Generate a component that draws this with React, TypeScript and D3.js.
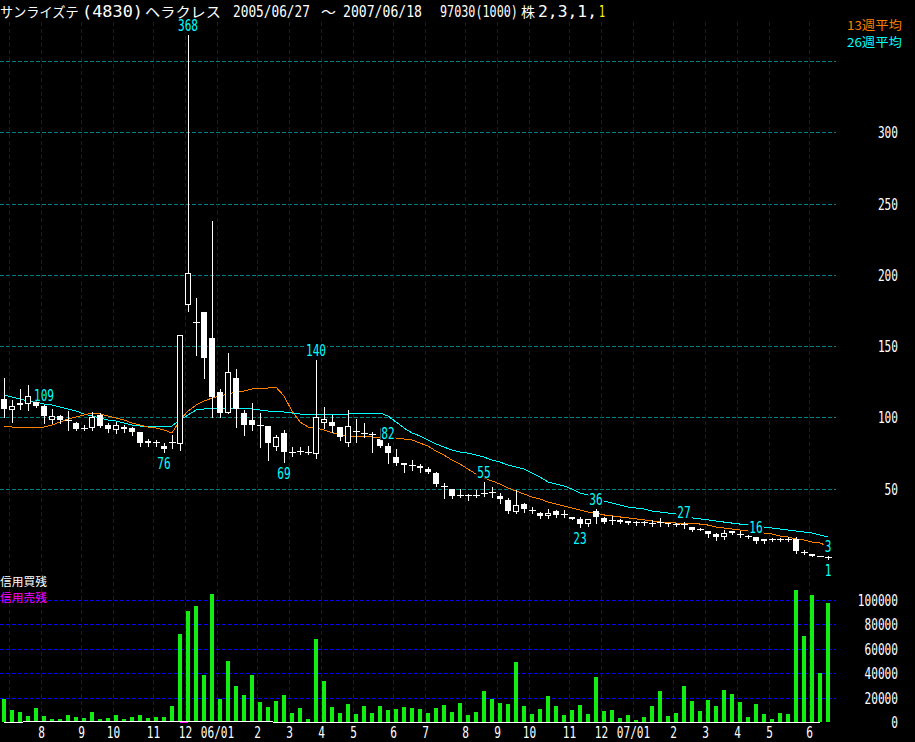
import React from 'react';
import * as d3 from 'd3';

// ---- weekly candles 2005/06/27 .. 2007/06/18 ----
const opens = [
  113, 106, 110, 110, 111, 108, 99, 101, 98, 96,
  92.6, 93, 102, 95, 92, 93, 92.6, 90, 83.5, 83,
  80, 83, 82, 179.5, 167, 174, 156, 118, 104, 128,
  103, 98, 95, 94, 80, 89, 76, 76.5, 76, 75,
  97, 97, 93, 83, 90.5, 89, 88.4, 85, 80, 72,
  68, 66.6, 66, 64, 61, 52, 50, 45.6, 45.6, 45.6,
  47, 47.7, 45, 42, 34.4, 39, 35, 33, 31.6, 34.4,
  32, 30, 29, 26, 34.4, 29.5, 28, 28, 27.3, 26.6,
  26.6, 26, 26.6, 26, 25.2, 25.2, 23, 21.7, 20.3, 18.2,
  17, 20.3, 18.2, 16.8, 16, 14.7, 14.7, 14.7, 14.7, 14.7,
  5.6, 4.2, 2.8, 2.1,
];
const highs = [
  128, 112, 120, 123, 117, 109, 106, 102, 104.5, 97,
  95, 104, 103, 96, 97, 95, 93, 90, 85, 84,
  82, 88, 158, 368, 184, 174, 238, 120, 145, 134,
  105, 110, 103, 94, 88, 91, 79, 79, 80, 140,
  107, 102, 93, 105, 99, 96, 90, 92.6, 82, 78,
  68, 70, 67, 65, 62, 54, 50, 50, 46, 49,
  55, 51, 47, 43.5, 49, 40, 37, 34, 36, 35,
  35, 30.5, 30, 29, 36, 30, 31, 29, 27.5, 27.3,
  27.3, 28, 29.5, 26, 26, 27, 23, 22.5, 20.3, 19,
  21, 20.5, 20, 17.5, 16, 15, 15.5, 15.5, 16, 16,
  7, 4.5, 3, 3,
];
const lows = [
  100, 97, 106, 105, 107, 96, 96, 96, 91, 91,
  91, 91, 93, 90, 89, 90, 88, 80, 80, 80,
  76, 78.5, 77, 175, 144, 128, 100, 100, 103, 93,
  88, 91, 79, 70, 77, 69, 73, 74, 74, 71.5,
  92.6, 90, 84, 80, 83, 86, 76, 79, 68, 66.6,
  62, 63, 62, 61, 52, 43.5, 43.5, 44, 42, 44,
  45, 44, 40, 33, 33, 34, 33, 29.5, 29.5, 30,
  30, 28.5, 23, 23.5, 26, 26, 25, 26, 25, 24.5,
  24.5, 24, 24, 24, 24, 22.5, 20.5, 21, 16, 14,
  14.7, 18.5, 16, 15.5, 12, 12, 13.3, 13.5, 13.3, 5,
  4.2, 2.5, 2.5, 1,
];
const closes = [
  106, 108, 109, 115, 108, 101, 101, 98, 98, 92,
  92.6, 100, 94, 92, 95, 92, 90, 82, 82, 83,
  78, 83, 158, 201, 167, 142, 114, 103, 132, 106,
  95, 95, 95, 82, 86, 76, 76, 76.5, 76, 100,
  99, 94, 86, 94, 90.5, 89, 88.4, 80, 75, 68,
  66.6, 66.6, 64.5, 62, 53, 52, 45, 45.6, 45.6, 45.6,
  47, 47.7, 43, 34.4, 38.6, 36, 35, 31, 33, 31.6,
  32, 29, 25, 29, 30, 27, 28, 26.6, 26, 26.6,
  26.6, 26, 26.6, 25, 25.2, 25.2, 21, 21.7, 18.2, 16,
  19, 19, 18.2, 16.8, 13.3, 13.3, 14.7, 14.7, 14.7, 6.3,
  5.6, 2.8, 2.8, 2.1,
];

// 13-week and 26-week moving averages as drawn
const ma13 = [
  94.0, 93.3, 92.6, 92.6, 92.6, 93.3, 94.7, 96.8, 98.9, 100.3,
  101.7, 103.1, 102.4, 101.0, 99.6, 98.2, 96.1, 94.7, 93.3, 92.6,
  91.2, 89.1, 98.2, 104.5, 108.7, 111.5, 113.6, 115.0, 116.4, 117.8,
  118.5, 119.9, 120.6, 120.6, 121.3, 115.0, 104.5, 96.8, 93.3, 92.6,
  91.2, 89.4, 87.7, 87.0, 86.3, 86.3, 86.3, 85.6, 85.6, 85.6,
  84.9, 84.2, 82.0, 79.9, 76.4, 73.6, 70.1, 67.3, 63.8, 60.3,
  57.5, 55.4, 53.3, 50.5, 48.4, 46.3, 44.2, 42.8, 40.7, 39.3,
  37.9, 36.5, 35.1, 33.7, 33.0, 31.6, 30.9, 30.2, 29.5, 28.8,
  28.1, 27.4, 26.6, 26.6, 25.9, 25.9, 25.9, 25.2, 24.5, 23.1,
  22.4, 21.7, 21.0, 20.3, 19.6, 18.9, 18.2, 16.8, 16.1, 14.7,
  14.0, 12.6, 11.9, 9.8,
];
const ma26 = [
  115.7, 114.3, 112.9, 111.5, 110.8, 109.4, 108.7, 107.3, 105.9, 104.5,
  102.4, 101.0, 99.6, 98.2, 97.5, 96.1, 94.7, 94.0, 93.3, 93.3,
  93.3, 94.0, 98.2, 101.7, 105.2, 105.9, 106.6, 106.6, 106.6, 106.6,
  106.6, 105.9, 105.2, 104.5, 104.5, 103.8, 103.1, 102.4, 101.7, 102.4,
  102.4, 102.4, 102.4, 102.4, 103.1, 103.1, 103.1, 103.1, 101.0, 96.8,
  92.6, 89.1, 87.0, 84.2, 81.4, 79.2, 77.1, 75.7, 75.0, 73.6,
  72.2, 70.1, 68.7, 66.6, 65.2, 63.8, 61.0, 58.2, 54.7, 53.3,
  51.9, 49.8, 47.0, 45.6, 43.5, 41.4, 40.0, 38.6, 37.2, 36.5,
  35.8, 34.4, 33.7, 33.0, 32.3, 30.9, 29.5, 28.8, 28.1, 27.4,
  26.6, 25.9, 25.2, 25.2, 23.8, 23.1, 22.4, 21.7, 21.0, 20.3,
  19.6, 18.9, 17.5, 16.1,
];

// weekly bars in the lower panel
const volume = [
  18900, 9800, 8200, 4900, 11500, 4900, 2500, 2500, 5700, 4100,
  3300, 8200, 2500, 3300, 5700, 2500, 4100, 5700, 3300, 4100,
  4100, 13100, 72100, 91000, 95100, 38500, 104900, 18900, 50000, 29500,
  22100, 38500, 16400, 12300, 17200, 22100, 7400, 11500, 2500, 68000,
  33600, 12300, 7400, 14800, 6600, 13100, 7400, 13100, 9800, 10700,
  12300, 11500, 10700, 7400, 11500, 13900, 8200, 15600, 5700, 8200,
  25400, 18900, 15600, 14800, 49200, 13100, 6600, 10700, 21300, 13100,
  5700, 9800, 13900, 6600, 36900, 9000, 9800, 3300, 5700, 1600,
  4100, 13100, 25400, 4900, 7400, 29500, 17200, 9000, 18000, 13100,
  26200, 23000, 16400, 4100, 14800, 6600, 2500, 7400, 6600, 108200,
  70500, 104100, 40200, 97500,
];
// 信用買残 (white line) and 信用売残 (magenta)
const buyBalance = [
  0, 0, 0, 1000, 1000, 1000, 1000, 1000, 1000, 1000,
  1000, 1000, 1000, 1000, 1000, 1000, 1000, 1000, 1000, 1000,
  1000, 1000, 1000, 1000, 1000, 1000, 1000, 1000, 1000, 1000,
  1000, 1000, 1000, 1000, 0, 0, 0, 0, 0, 0,
  0, 0, 0, 0, 0, 0, 0, 0, 0, 0,
  0, 0, 0, 0, 0, 0, 0, 0, 0, 0,
  0, 0, 0, 0, 0, 0, 0, 0, 0, 0,
  0, 0, 0, 0, 0, 0, 0, 0, 0, 0,
  0, 0, 0, 0, 0, 0, 0, 0, 0, 0,
  0, 0, 0, 0, 0, 0, 0, 0, 0, 0,
  0, 0, 0,
];
const sellBalanceIdx = [22, 23];
const sellBalance = [0, 0];

const monthIdx = [1, 5, 10, 14, 19, 23, 27, 32, 36, 40, 44, 49, 53, 58, 62, 66, 71, 75, 79, 84, 88, 92, 96, 101];
const monthText = ['', '8', '9', '10', '11', '12', '06/01', '2', '3', '4', '5', '6', '7', '8', '9', '10', '11', '12', '07/01', '2', '3', '4', '5', '6'];

const priceGrid = [50, 100, 150, 200, 250, 300, 350];
const priceTicks = [50, 100, 150, 200, 250, 300];
const volGrid = [20000, 40000, 60000, 80000, 100000];
const volTicks = [0, 20000, 40000, 60000, 80000, 100000];

const peakIdx = [23, 5, 20, 35, 39, 48, 60, 72, 74, 85, 94, 103, 103];
const peakVal = [368, 109, 76, 69, 140, 82, 55, 23, 36, 27, 16, 3, 1];
const peakHigh = [true, true, false, false, true, true, true, false, true, true, true, true, false];

const titleParts = ['サンライズテ', '(4830)', 'ヘラクレス', '2005/06/27', '～', '2007/06/18', '97030(1000)', '株', '2,3,1,', '1'];
const titleX = [0, 82, 145, 233, 321, 343, 440, 521, 538, 599];
const titleW = [79, 61, 76, 77, 15, 79, 78, 14, 59, 6];

// ---- scales ----
const x = d3.scaleLinear().domain([0, 103]).range([4, 828]);
const yP = d3.scaleLinear().domain([0, 350]).range([560, 61]);
const yV = d3.scaleLinear().domain([0, 100000]).range([722, 600]);

const MONO = "'DejaVu Sans Mono', 'Liberation Mono', monospace";
const CJK = "'Noto Sans CJK JP', 'Noto Sans CJK SC', sans-serif";
const ADV = 6.7;

// text squeezed horizontally with a transform so its real box equals the target width
function ST({ x: tx, y: ty, text, w, cjk = false, size = 16, anchor = 'start', fill = '#fff' }: any) {
  const natural = text.length * (cjk ? 1 : 0.602) * size;
  const sx = w / natural;
  return (
    <text transform={`translate(${tx},${ty}) scale(${sx.toFixed(4)},1)`} x={0} y={0} fill={fill}
      fontFamily={cjk ? CJK : MONO} fontSize={size} textAnchor={anchor}>{text}</text>
  );
}

function Num({ x: tx, y: ty, text, anchor = 'start', fill = '#fff' }: any) {
  return <ST x={tx} y={ty} text={text} w={text.length * ADV} anchor={anchor} fill={fill} />;
}

export default function App() {
  const line = d3.line<number>().x((_, i) => x(i)).y((d) => yP(d));
  const vline = d3.line<number>().x((_, i) => x(i)).y((d) => yV(d) + 0.5);
  const sline = d3.line<number>().x((_, k) => x(sellBalanceIdx[k])).y((d) => yV(d) + 0.5);

  return (
    <div style={{ position: 'absolute', left: 0, top: 0 }}>
      <svg width={915} height={742} style={{ display: 'block', background: '#000' }}>
        <rect x={0} y={0} width={915} height={742} fill="#000" />
        {/* horizontal price grid */}
        {priceGrid.map((v) => (
          <line key={'pg' + v} x1={0} x2={836} y1={Math.round(yP(v)) + 0.5} y2={Math.round(yP(v)) + 0.5}
            stroke="#008080" strokeDasharray="4,2" />
        ))}
        {/* horizontal volume grid */}
        {volGrid.map((v) => (
          <line key={'vg' + v} x1={0} x2={836} y1={Math.round(yV(v)) + 0.5} y2={Math.round(yV(v)) + 0.5}
            stroke="#0000ff" strokeDasharray="4,2" />
        ))}
        {/* vertical month grid */}
        {monthIdx.map((m) => (
          <line key={'mg' + m} x1={x(m) - 3 + 0.5} x2={x(m) - 3 + 0.5} y1={22} y2={722}
            stroke="#0000ff" strokeDasharray="4,3" />
        ))}

        {/* volume bars */}
        {volume.map((v, i) => (
          <rect key={'v' + i} x={Math.round(x(i)) - 2} y={Math.round(yV(v))} width={4}
            height={722 - Math.round(yV(v))} fill="#11ee11" />
        ))}
        <path d={sline(sellBalance) || ''} fill="none" stroke="#ff00ff" strokeWidth={1} shapeRendering="crispEdges" />
        <path d={vline(buyBalance) || ''} fill="none" stroke="#ffffff" strokeWidth={1} shapeRendering="crispEdges" />

        {/* moving averages */}
        <path d={line(ma26) || ''} fill="none" stroke="#00ffff" strokeWidth={1} shapeRendering="crispEdges" />
        <path d={line(ma13) || ''} fill="none" stroke="#ff8000" strokeWidth={1} shapeRendering="crispEdges" />

        {/* candles */}
        {closes.map((c, i) => {
          const o = opens[i];
          const cx = Math.round(x(i));
          const yh = Math.round(yP(highs[i]));
          const yl = Math.round(yP(lows[i]));
          const yo = Math.round(yP(o));
          const yc = Math.round(yP(c));
          const top = Math.min(yo, yc);
          const bot = Math.max(yo, yc);
          let body;
          if (o === c || top === bot) {
            body = <line x1={cx - 3} x2={cx + 4} y1={yc + 0.5} y2={yc + 0.5} stroke="#fff" />;
          } else if (c > o) {
            body = <rect x={cx - 2.5} y={top + 0.5} width={5} height={Math.max(bot - top, 1)} fill="#000" stroke="#fff" />;
          } else {
            body = <rect x={cx - 3} y={top} width={6} height={Math.max(bot - top, 1)} fill="#fff" />;
          }
          return (
            <g key={'c' + i} shapeRendering="crispEdges">
              <line x1={cx + 0.5} x2={cx + 0.5} y1={yh} y2={yl + 1} stroke="#fff" />
              {body}
            </g>
          );
        })}

        {/* peak / trough labels */}
        {peakVal.map((v, k) => {
          const t = String(v);
          const cx = x(peakIdx[k]);
          const yv = yP(v);
          const base = peakHigh[k] ? yv - 4 : yv + 17;
          const w = t.length * ADV;
          return (
            <g key={'pk' + k}>
              <rect x={cx - w / 2 - 1} y={base - 12} width={w + 2} height={13} fill="#000" />
              <Num x={cx} y={base} text={t} anchor="middle" fill="#00ffff" />
            </g>
          );
        })}

        {/* price axis labels */}
        {priceTicks.map((v) => (
          <Num key={'pt' + v} x={898} y={Math.round(yP(v)) + 6} text={String(v)} anchor="end" />
        ))}
        {/* volume axis labels */}
        {volTicks.map((v) => (
          <Num key={'vt' + v} x={898} y={Math.round(yV(v)) + 6} text={String(v)} anchor="end" />
        ))}
        {/* month labels */}
        {monthIdx.map((m, k) =>
          monthText[k] ? (
            <Num key={'ml' + k} x={x(m) - 3 + 0.5} y={738} text={monthText[k]} anchor="middle" />
          ) : null
        )}

        {/* title */}
        {titleParts.map((t, k) => {
          const cjk = /[^\x00-\x7f]/.test(t);
          return (
            <ST key={'tt' + k} x={titleX[k]} y={16.5} text={t} w={titleW[k]} cjk={cjk} size={cjk ? 14 : 16}
              fill={k === titleParts.length - 1 ? '#ffff00' : '#fff'} />
          );
        })}

        {/* legends */}
        <text x={902} y={30} fill="#ff8000" fontFamily={CJK} fontSize={12} textAnchor="end"
          textLength={55} lengthAdjust="spacingAndGlyphs">13週平均</text>
        <text x={902} y={47} fill="#00ffff" fontFamily={CJK} fontSize={12} textAnchor="end"
          textLength={55} lengthAdjust="spacingAndGlyphs">26週平均</text>
        <text x={0} y={586} fill="#ffffff" fontFamily={CJK} fontSize={11}
          textLength={47} lengthAdjust="spacingAndGlyphs">信用買残</text>
        <text x={0} y={602} fill="#ff00ff" fontFamily={CJK} fontSize={11}
          textLength={47} lengthAdjust="spacingAndGlyphs">信用売残</text>
      </svg>
    </div>
  );
}
